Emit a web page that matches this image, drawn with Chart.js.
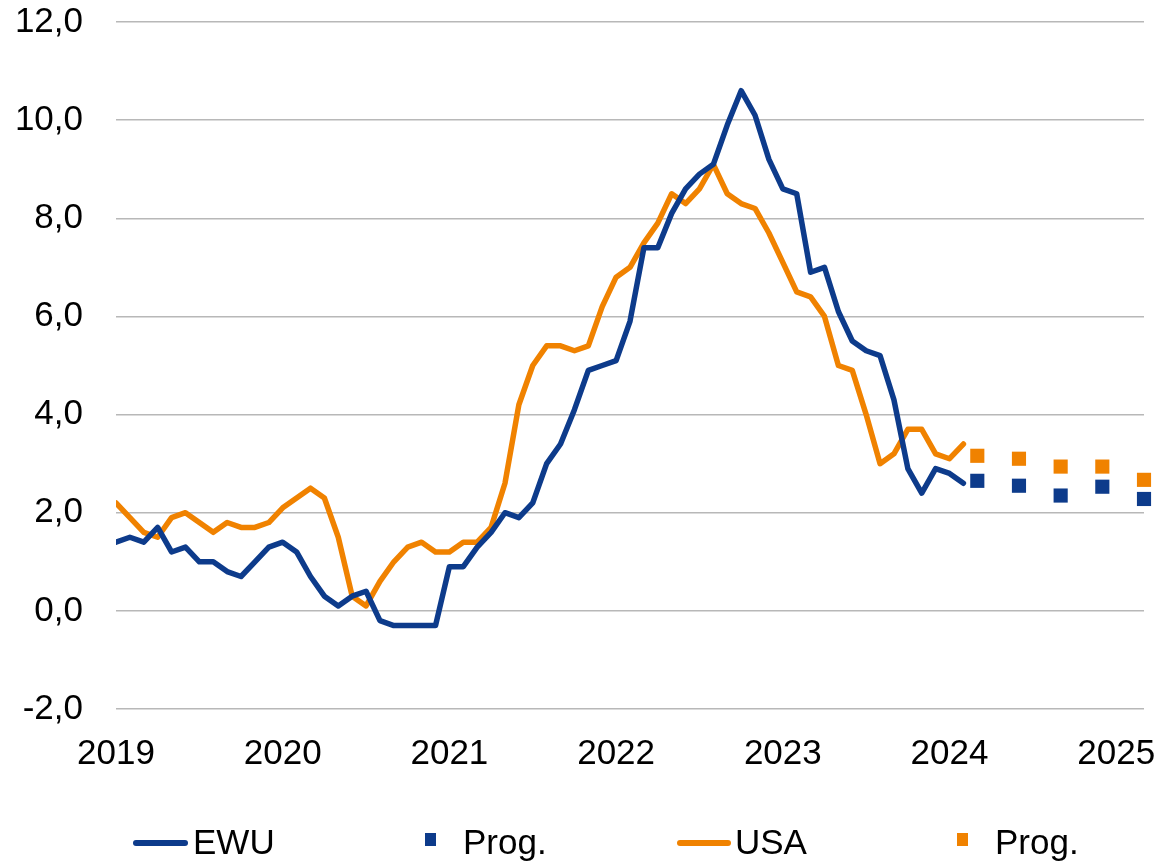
<!DOCTYPE html>
<html><head><meta charset="utf-8">
<script src="https://cdn.jsdelivr.net/npm/chart.js@4.4.1/dist/chart.umd.min.js"></script>
<style>
html,body{margin:0;padding:0;background:#fff;}
#wrap{position:relative;width:1163px;height:862px;overflow:hidden;}
#c{position:absolute;left:0;top:0;}
.lg{position:absolute;font-family:"Liberation Sans",Arial,sans-serif;font-size:35px;line-height:35px;color:#000;white-space:nowrap;}
.ln{position:absolute;height:6px;border-radius:3px;}
.sq{position:absolute;width:11px;height:13px;}
</style>
</head><body>
<div id="wrap"><canvas id="c" width="1163" height="862"></canvas></div>
<script>
// Year tick labels (placed every 12 months, month 0 = Jan 2019)
const yearLabels = ['2019','2020','2021','2022','2023','2024','2025'];
// EWU inflation, monthly
const ewu = [1.4,1.5,1.4,1.7,1.2,1.3,1.0,1.0,0.8,0.7,1.0,1.3,
             1.4,1.2,0.7,0.3,0.1,0.3,0.4,-0.2,-0.3,-0.3,-0.3,-0.3,
             0.9,0.9,1.3,1.6,2.0,1.9,2.2,3.0,3.4,4.1,4.9,5.0,
             5.1,5.9,7.4,7.4,8.1,8.6,8.9,9.1,9.9,10.6,10.1,9.2,
             8.6,8.5,6.9,7.0,6.1,5.5,5.3,5.2,4.3,2.9,2.4,2.9,
             2.8,2.6];
// USA inflation, monthly (as plotted)
const usa = [2.2,1.9,1.6,1.5,1.9,2.0,1.8,1.6,1.8,1.7,1.7,1.8,
             2.1,2.3,2.5,2.3,1.5,0.3,0.1,0.6,1.0,1.3,1.4,1.2,
             1.2,1.4,1.4,1.7,2.6,4.2,5.0,5.4,5.4,5.3,5.4,6.2,
             6.8,7.0,7.5,7.9,8.5,8.3,8.6,9.1,8.5,8.3,8.2,7.7,
             7.1,6.5,6.4,6.0,5.0,4.9,4.0,3.0,3.2,3.7,3.7,3.2,
             3.1,3.4];
// Forecasts (quarterly), month index
const progMonth = [62,65,68,71,74];
const ewuProg = [2.65,2.55,2.35,2.53,2.28];
const usaProg = [3.16,3.10,2.94,2.94,2.67];

const BLUE = '#0d3b8b', ORANGE = '#f08200';
const FONT = '"Liberation Sans", Arial, sans-serif';
const toXY = (arr, xs) => arr.map((v, i) => ({x: xs ? xs[i] : i, y: v}));

new Chart(document.getElementById('c'), {
  type: 'line',
  data: {
    datasets: [
      {label:'EWU', data: toXY(ewu), borderColor: BLUE, borderWidth: 5.5, pointRadius: 0, tension: 0, borderJoinStyle:'round', borderCapStyle:'round'},
      {label:'Prog.', data: toXY(ewuProg, progMonth), showLine:false, pointStyle:'rect', pointRadius:10, pointBorderWidth:0, backgroundColor: BLUE, borderColor: BLUE, clip:false},
      {label:'USA', data: toXY(usa), borderColor: ORANGE, borderWidth: 5.5, pointRadius: 0, tension: 0, borderJoinStyle:'round', borderCapStyle:'round'},
      {label:'Prog.', data: toXY(usaProg, progMonth), showLine:false, pointStyle:'rect', pointRadius:10, pointBorderWidth:0, backgroundColor: ORANGE, borderColor: ORANGE, clip:false}
    ]
  },
  options: {
    responsive: false,
    animation: false,
    layout: {padding: {left: 0, right: 19, top: 22, bottom: 0}},
    plugins: {legend: {display: false}, tooltip: {enabled: false}},
    scales: {
      x: {
        type: 'linear', min: 0, max: 74,
        afterBuildTicks: s => { s.ticks = yearLabels.map((_, i) => ({value: i * 12})); },
        afterFit: s => { s.height = 153; s.paddingLeft = 0; s.paddingRight = 0; },
        grid: {display: false, drawTicks: false},
        border: {display: false},
        ticks: {
          maxRotation: 0, autoSkip: false, padding: 24, color: '#000',
          font: {family: FONT, size: 35},
          callback: v => yearLabels[Math.round(v / 12)]
        }
      },
      y: {
        min: -2, max: 12,
        afterFit: s => { s.width = 116; s.paddingTop = 0; s.paddingBottom = 0; },
        grid: {color: '#b8b8b8', lineWidth: 1.5, drawTicks: false},
        border: {display: false},
        ticks: {
          stepSize: 2, padding: 33, color: '#000',
          font: {family: FONT, size: 35},
          callback: v => v.toFixed(1).replace('.', ',')
        }
      }
    }
  }
});

// Legend (HTML text)
const legendItems = [
  {text:'EWU', color: BLUE, kind:'line', x:133, w:55, tx:193},
  {text:'Prog.', color: BLUE, kind:'sq', x:425, tx:463},
  {text:'USA', color: ORANGE, kind:'line', x:677, w:54, tx:735},
  {text:'Prog.', color: ORANGE, kind:'sq', x:957, tx:995}
];
const wrap = document.getElementById('wrap');
legendItems.forEach(it => {
  const m = document.createElement('div');
  if (it.kind === 'line') {
    m.className = 'ln'; m.style.left = it.x + 'px'; m.style.top = '840px'; m.style.width = it.w + 'px';
  } else {
    m.className = 'sq'; m.style.left = it.x + 'px'; m.style.top = '833px';
  }
  m.style.background = it.color;
  wrap.appendChild(m);
  const t = document.createElement('div');
  t.className = 'lg'; t.textContent = it.text;
  t.style.left = it.tx + 'px'; t.style.top = '824px';
  wrap.appendChild(t);
});
</script>
</body></html>
